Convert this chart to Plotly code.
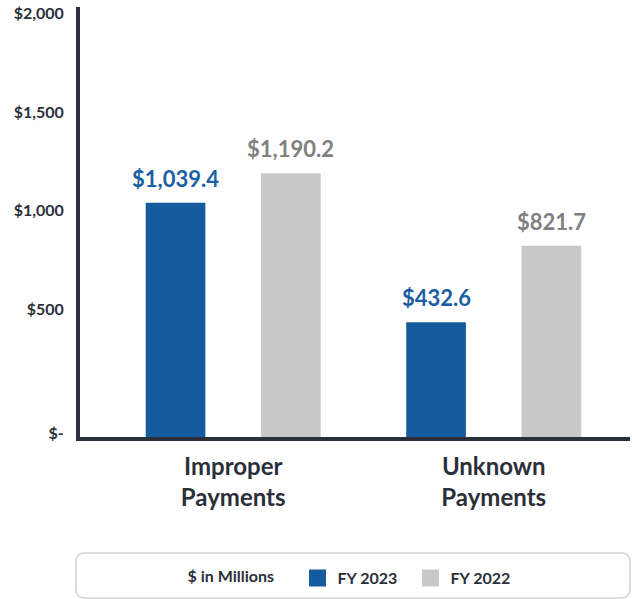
import plotly.graph_objects as go

# ---- data ----
CATEGORIES = ["Improper<br>Payments", "Unknown<br>Payments"]
FY2023 = [1039.4, 432.6]
FY2022 = [1190.2, 821.7]
FY2023_LABELS = ["$1,039.4", "$432.6"]
FY2022_LABELS = ["$1,190.2", "$821.7"]
Y_TICK_VALUES = [-131, 500, 1000, 1500, 2000]
Y_TICK_TEXT = ["$-", "$500", "$1,000", "$1,500", "$2,000"]
SERIES_NAMES = ["FY 2023", "FY 2022"]
UNIT_LABEL = "$ in Millions"

# ---- style ----
Y_MIN, Y_MAX = -151, 2035
BLUE = "#155a9c"
BLUE_TXT = "#1a5ea4"
GRAY = "#c8c8c8"
GRAY_TXT = "#808080"
DARK = "#2b2f3a"
FONT = "Lato"
W, H = 632, 599
# plot area in page pixels
P_LEFT, P_RIGHT, P_TOP, P_BOTTOM = 80, 630, 7, 437
ML, MR, MT, MB = P_LEFT, W - P_RIGHT, P_TOP, H - P_BOTTOM
PW, PH = W - ML - MR, H - MT - MB

BAR_W = 0.229
OFF = 0.2214  # half distance between bar centers, in category units
X_RANGE = [-0.588, 1.523]

fig = go.Figure()
for name, vals, color in [(SERIES_NAMES[0], FY2023, BLUE), (SERIES_NAMES[1], FY2022, GRAY)]:
    off = -OFF - BAR_W / 2 if color == BLUE else OFF - BAR_W / 2
    fig.add_trace(go.Bar(
        x=CATEGORIES, y=[v - Y_MIN for v in vals], base=Y_MIN,
        customdata=vals, hovertemplate="%{x}: $%{customdata}<extra>" + name + "</extra>",
        name=name, width=BAR_W, offset=off,
        marker=dict(color=color, line=dict(color=color, width=0)),
        showlegend=False,
    ))
    # legend entries (bigger swatch)
    fig.add_trace(go.Bar(
        x=[None], y=[None], name=name,
        marker=dict(color=color, line=dict(color=color, width=5)),
        showlegend=True,
    ))

px_per_cat = PW / (X_RANGE[1] - X_RANGE[0])
for vals, labels, color, sign in [(FY2023, FY2023_LABELS, BLUE_TXT, -1), (FY2022, FY2022_LABELS, GRAY_TXT, 1)]:
    for cat, v, lab in zip(CATEGORIES, vals, labels):
        fig.add_annotation(
            x=cat, y=v, xref="x", yref="y", text=lab, showarrow=False,
            xshift=sign * OFF * px_per_cat, yshift=9, yanchor="bottom",
            font=dict(family=FONT, size=22, color=color, weight="bold"),
        )

# rounded legend box (page pixels -> paper coords)
def px_x(p):
    return (p - P_LEFT) / PW

def px_y(p):
    return (P_BOTTOM - p) / PH

x0, x1 = px_x(76), px_x(630)
y0, y1 = px_y(553), px_y(598)
rx, ry = 9 / PW, 9 / PH
path = (f"M{x0+rx},{y0} L{x1-rx},{y0} Q{x1},{y0} {x1},{y0-ry} "
        f"L{x1},{y1+ry} Q{x1},{y1} {x1-rx},{y1} L{x0+rx},{y1} Q{x0},{y1} {x0},{y1+ry} "
        f"L{x0},{y0-ry} Q{x0},{y0} {x0+rx},{y0} Z")
fig.add_shape(type="path", path=path, xref="paper", yref="paper",
              line=dict(color="#d4d4d4", width=1.5), fillcolor="rgba(0,0,0,0)")

fig.update_layout(
    width=W, height=H,
    margin=dict(l=ML, r=MR, t=MT, b=MB, pad=0),
    paper_bgcolor="white", plot_bgcolor="white",
    barmode="overlay",
    font=dict(family=FONT, color=DARK),
    showlegend=True,
    legend=dict(
        orientation="h", x=355 / W, xref="container", xanchor="center",
        y=1 - 578 / H, yref="container", yanchor="middle",
        title=dict(text=UNIT_LABEL + "    ", side="left",
                   font=dict(family=FONT, size=16, color=DARK, weight="bold")),
        font=dict(family=FONT, size=16, color=DARK, weight="bold"),
        bgcolor="rgba(0,0,0,0)", itemwidth=30, entrywidth=68,
        traceorder="normal",
    ),
    xaxis=dict(
        range=X_RANGE, showgrid=False, zeroline=False,
        showline=True, linecolor=DARK, linewidth=4,
        ticks="outside", ticklen=5, tickcolor="rgba(0,0,0,0)",
        tickfont=dict(family=FONT, size=24, color=DARK, weight="bold"),
        fixedrange=True,
    ),
    yaxis=dict(
        range=[Y_MIN, Y_MAX], showgrid=False, zeroline=False,
        showline=True, linecolor=DARK, linewidth=4,
        tickvals=Y_TICK_VALUES, ticktext=Y_TICK_TEXT,
        ticks="outside", ticklen=9, tickcolor="rgba(0,0,0,0)",
        tickfont=dict(family=FONT, size=16, color=DARK, weight="bold"),
        fixedrange=True,
    ),
)

fig.write_html("out.html", config={"displayModeBar": False},
               post_script="document.body.style.margin='0px';")
